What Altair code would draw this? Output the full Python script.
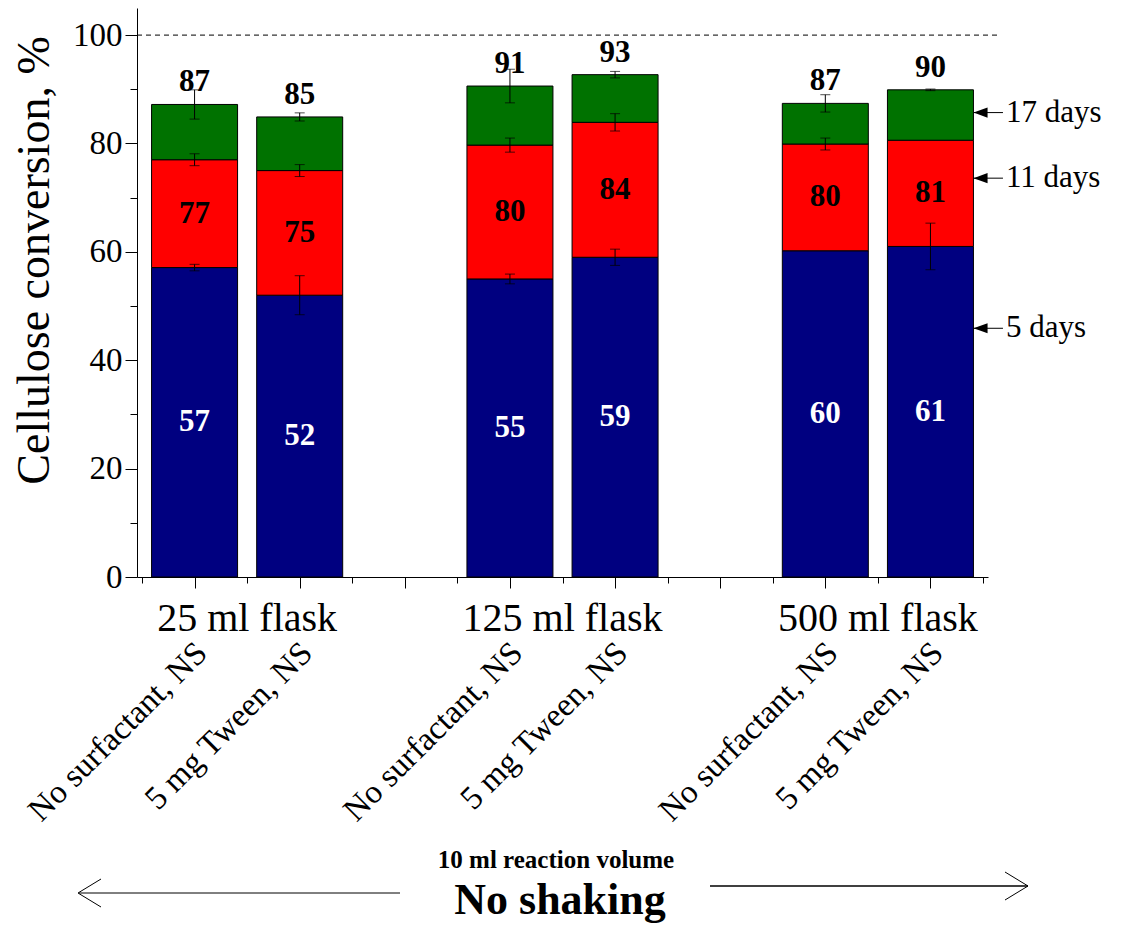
import altair as alt
import pandas as pd

# ---- data ----
positions = [0, 1, 3, 4, 6, 7]
conditions = ["No surfactant, NS", "5 mg Tween, NS"] * 3
flasks = ["25 ml flask", "125 ml flask", "500 ml flask"]
flask_pos = [0.5, 3.5, 6.5]
day5 = [57.1, 52.0, 55.0, 59.0, 60.2, 61.0]
day11 = [77.0, 75.0, 79.7, 83.9, 79.9, 80.6]
day17 = [87.2, 84.9, 90.6, 92.7, 87.4, 89.9]
err5 = [0.6, 3.6, 0.9, 1.5, 0.0, 4.3]
err11 = [1.1, 1.1, 1.3, 1.6, 1.1, 0.0]
err17 = [2.7, 0.75, 3.1, 0.6, 1.6, 0.15]
periods = ["5 days", "11 days", "17 days"]
period_y = [45.9, 73.6, 85.7]
colors = ["#000080", "#FF0000", "#007200"]

FONT = "Liberation Serif"

# ---- tables ----
bar_rows, err_rows, lab_rows = [], [], []
for i, p in enumerate(positions):
    segs = [(0, day5[i], err5[i]), (day5[i], day11[i], err11[i]), (day11[i], day17[i], err17[i])]
    for k, (lo, hi, e) in enumerate(segs):
        bar_rows.append(dict(pos=p, day=periods[k], lo=lo, hi=hi))
        if e > 0:
            err_rows.append(dict(pos=p, top=hi, elo=hi - e, ehi=hi + e))
    lab_rows.append(dict(pos=p, y=day5[i] / 2, txt=str(int(round(day5[i]))), col="white"))
    lab_rows.append(dict(pos=p, y=(day5[i] + day11[i]) / 2, txt=str(int(round(day11[i]))), col="black"))
bars = pd.DataFrame(bar_rows)
errs = pd.DataFrame(err_rows)
labs = pd.DataFrame(lab_rows)
tots = pd.DataFrame(dict(pos=positions, y=day17, txt=[str(int(round(v))) for v in day17]))
conds = pd.DataFrame(dict(pos=positions, txt=conditions))
fl = pd.DataFrame(dict(pos=flask_pos, txt=flasks))
ann = pd.DataFrame(dict(y=period_y, txt=periods))
ref = pd.DataFrame(dict(v=[100]))

xscale = alt.Scale(domain=[-0.5, 7.5], nice=False, zero=False)
yscale = alt.Scale(domain=[0, 105], nice=False)

base_axis = dict(domainColor="black", tickColor="black", labelColor="black",
                 domainWidth=1, tickWidth=1, grid=False)
minor_axis = dict(tickColor="black", labelColor="black", tickWidth=1, grid=False)

main = alt.Chart(bars).mark_bar(size=86, stroke="black", strokeWidth=1).encode(
    x=alt.X("pos:Q", scale=xscale,
            axis=alt.Axis(orient="bottom", values=list(range(8)), labels=False,
                          tickSize=11, title=None, **base_axis)),
    y=alt.Y("lo:Q", scale=yscale,
            axis=alt.Axis(orient="left", values=[0, 20, 40, 60, 80, 100], tickSize=12,
                          labelFont=FONT, labelFontSize=33, labelPadding=3,
                          title="Cellulose conversion, %", titleFont=FONT,
                          titleFontSize=46, titleFontWeight="normal", titleColor="black",
                          titleAngle=270, titleX=-103, titleY=252,
                          titleAlign="center", titleBaseline="middle", **base_axis)),
    y2="hi:Q",
    color=alt.Color("day:N", scale=alt.Scale(domain=periods, range=colors), legend=None),
)

# error bars (also carries the minor-tick axes)
err_rule = alt.Chart(errs).mark_rule(color="black", strokeWidth=1).encode(
    x=alt.X("pos:Q", scale=xscale,
            axis=alt.Axis(orient="bottom", values=[v + 0.5 for v in range(-1, 8)],
                          labels=False, tickSize=6, title=None, domain=False, **minor_axis)),
    y=alt.Y("elo:Q", scale=yscale,
            axis=alt.Axis(orient="left", values=[10, 30, 50, 70, 90], labels=False,
                          tickSize=7, title=None, domain=False, **minor_axis)),
    y2="ehi:Q",
)
cap_lo = alt.Chart(errs).mark_tick(orient="horizontal", size=10, thickness=1, color="black").encode(
    x=alt.X("pos:Q", scale=xscale, axis=None), y=alt.Y("elo:Q", scale=yscale, axis=None))
cap_hi = alt.Chart(errs).mark_tick(orient="horizontal", size=10, thickness=1, color="black").encode(
    x=alt.X("pos:Q", scale=xscale, axis=None), y=alt.Y("ehi:Q", scale=yscale, axis=None))

dash = alt.Chart(ref).mark_rule(color="black", strokeWidth=1, strokeDash=[5, 4]).encode(
    y=alt.Y("v:Q", scale=yscale, axis=None), x=alt.value(0), x2=alt.value(863))

seg_labels = alt.Chart(labs).mark_text(font=FONT, fontSize=31, fontWeight="bold",
                                        baseline="middle").encode(
    x=alt.X("pos:Q", scale=xscale, axis=None), y=alt.Y("y:Q", scale=yscale, axis=None),
    text="txt:N", color=alt.Color("col:N", scale=None))

tot_labels = alt.Chart(tots).mark_text(font=FONT, fontSize=31, fontWeight="bold",
                                        baseline="alphabetic", dy=-13, color="black").encode(
    x=alt.X("pos:Q", scale=xscale, axis=None), y=alt.Y("y:Q", scale=yscale, axis=None),
    text="txt:N")

cond_labels = alt.Chart(conds).transform_calculate(px="datum.pos + 0.07").mark_text(
    font=FONT, fontSize=33, angle=315, align="right", baseline="middle", color="black").encode(
    x=alt.X("px:Q", scale=xscale, axis=None), y=alt.value(640), text="txt:N")

flask_labels = alt.Chart(fl).mark_text(font=FONT, fontSize=40, align="center",
                                       baseline="alphabetic", color="black").encode(
    x=alt.X("pos:Q", scale=xscale, axis=None), y=alt.value(623), text="txt:N")

# right-side period annotations
TIP = 7.41
arrow_line = alt.Chart(ann).transform_calculate(a=f"{TIP}", b="7.69").mark_rule(
    color="black", strokeWidth=1).encode(
    x=alt.X("a:Q", scale=xscale, axis=None), x2="b:Q", y=alt.Y("y:Q", scale=yscale, axis=None))
arrow_head = alt.Chart(ann).transform_calculate(a=f"{TIP}").mark_point(
    shape="M 0 0 L 2 -0.72 L 2 0.72 Z", size=196, filled=True, color="black", opacity=1).encode(
    x=alt.X("a:Q", scale=xscale, axis=None), y=alt.Y("y:Q", scale=yscale, axis=None))
arrow_text = alt.Chart(ann).transform_calculate(a="7.69").mark_text(
    font=FONT, fontSize=31, align="left", baseline="middle", dx=3, color="black").encode(
    x=alt.X("a:Q", scale=xscale, axis=None), y=alt.Y("y:Q", scale=yscale, axis=None),
    text="txt:N")

# bottom annotation
dummy = pd.DataFrame(dict(a=[0]))


def seg(x1, y1, x2, y2, w=1.0):
    return alt.Chart(dummy).mark_rule(color="black", strokeWidth=w).encode(
        x=alt.value(x1), y=alt.value(y1), x2=alt.value(x2), y2=alt.value(y2))


bottom = [
    seg(-58, 885, 263, 885), seg(-59, 885, -36, 871), seg(-59, 885, -36, 899),
    seg(573, 878, 891, 878, 1.5), seg(891, 878, 868, 864), seg(891, 878, 868, 892),
]
t1 = alt.Chart(dummy).mark_text(text="10 ml reaction volume", font=FONT, fontSize=25,
                                fontWeight="bold", align="center", baseline="alphabetic",
                                color="black").encode(x=alt.value(419), y=alt.value(860))
t2 = alt.Chart(dummy).mark_text(text="No shaking", font=FONT, fontSize=44,
                                fontWeight="bold", align="center", baseline="alphabetic",
                                color="black").encode(x=alt.value(423), y=alt.value(906))

chart = alt.layer(
    main, err_rule, cap_lo, cap_hi, dash, seg_labels, tot_labels, cond_labels, flask_labels,
    arrow_line, arrow_head, arrow_text, *bottom, t1, t2
).resolve_axis(x="independent", y="independent").properties(
    width=851, height=569, autosize="none",
    padding={"left": 129, "top": 0, "right": 126, "bottom": 347},
).configure_view(stroke=None)

chart.save("out.html", embed_options={"renderer": "svg", "actions": False})
